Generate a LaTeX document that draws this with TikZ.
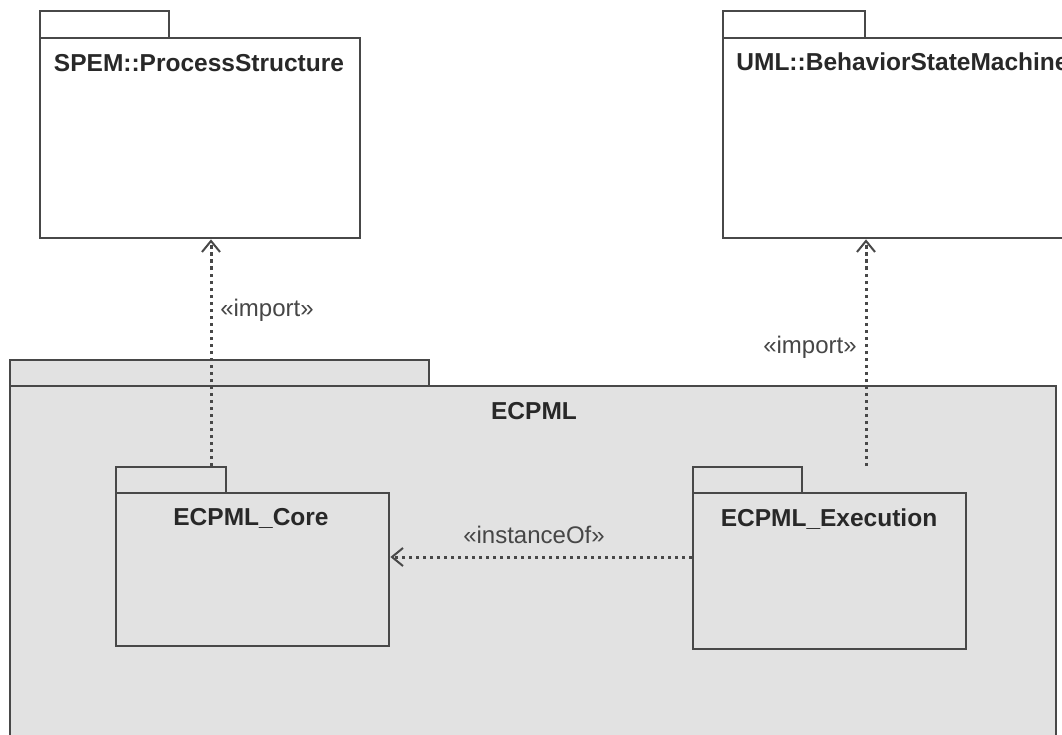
\documentclass[tikz,border=0pt]{standalone}
\usepackage{fontspec}
\setmainfont{Liberation Sans}
\usetikzlibrary{arrows.meta}
\definecolor{lc}{RGB}{72,72,72}
\definecolor{tc}{RGB}{40,40,40}
\definecolor{lt}{RGB}{70,70,70}
\definecolor{pf}{RGB}{226,226,226}
\tikzset{
  pkgbox/.style={draw=lc, line width=2.4pt, inner sep=0pt, anchor=north west},
  title/.style={font=\bfseries\fontsize{24.5}{28}\selectfont, text=tc, inner sep=0pt, anchor=base},
  lbl/.style={font=\fontsize{24}{28}\selectfont, text=lt, inner sep=0pt, anchor=base},
  dep/.style={draw=lc, line width=3pt, dash pattern=on 3.5pt off 3.5pt,
    -{Straight Barb[length=11pt,width=18pt,line width=2pt]}}
}
\begin{document}
\begin{tikzpicture}[x=1pt,y=-1pt]
\useasboundingbox (0,0) rectangle (1062,735);
\clip (0,0) rectangle (1062,735);
\fill[white] (0,0) rectangle (1062,735);
% SPEM
\node[pkgbox, fill=white, minimum width=129pt, minimum height=27pt] (spemtab) at (39,10) {};
\node[pkgbox, fill=white, minimum width=320pt, minimum height=200pt] (spem) at (39,37) {};
\node[title] (spemt) at (199,72) {SPEM::ProcessStructure};
% UML
\node[pkgbox, fill=white, minimum width=142pt, minimum height=27pt] (umltab) at (722,10) {};
\node[pkgbox, fill=white, minimum width=361pt, minimum height=200pt] (uml) at (722,37) {};
\node[title] (umlt) at (902.5,71) {UML::BehaviorStateMachine};
% ECPML
\node[pkgbox, fill=pf, minimum width=419pt, minimum height=26pt] (ecptab) at (9,359) {};
\node[pkgbox, fill=pf, minimum width=1046pt, minimum height=352pt] (ecp) at (9,385) {};
\node[title] (ecpt) at (534,419) {ECPML};
% Core
\node[pkgbox, fill=pf, minimum width=110pt, minimum height=26pt] (coretab) at (115,466) {};
\node[pkgbox, fill=pf, minimum width=273pt, minimum height=153pt] (core) at (115,492) {};
\node[title] (coret) at (251,525) {ECPML\_Core};
% Execution
\node[pkgbox, fill=pf, minimum width=109pt, minimum height=26pt] (exectab) at (692,466) {};
\node[pkgbox, fill=pf, minimum width=273pt, minimum height=156pt] (exec) at (692,492) {};
\node[title] (exect) at (829,526) {ECPML\_Execution};
% connectors
\coordinate (s1) at (211,466);
\coordinate (s2) at (866,466);
\coordinate (s3) at (692,557);
\draw[dep] (s1) -- (s1 |- spem.south);
\draw[dep] (s2) -- (s2 |- uml.south);
\draw[dep] (s3) -- (s3 -| core.east);
\node[lbl] (l1) at (267,316) {«import»};
\node[lbl] (l2) at (810,353) {«import»};
\node[lbl] (l3) at (534,543) {«instanceOf»};
\end{tikzpicture}
\end{document}
